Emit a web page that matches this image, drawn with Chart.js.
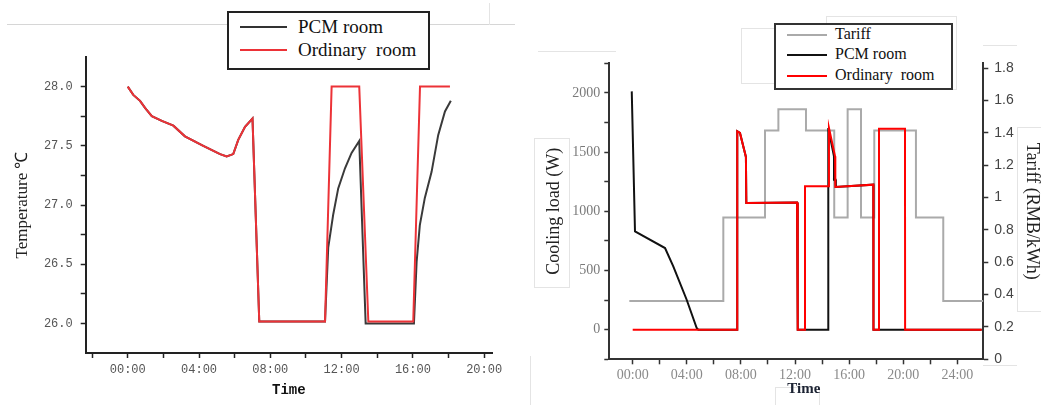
<!DOCTYPE html>
<html>
<head>
<meta charset="utf-8">
<script src="https://cdn.jsdelivr.net/npm/chart.js@4.4.1/dist/chart.umd.min.js"></script>
<style>
  body { margin: 0; background: #fff; width: 1041px; height: 405px; overflow: hidden; position: relative; }
  .pane { position: absolute; top: 0; height: 405px; }
  .ghost { position: absolute; border: 1px solid #e4e4e4; box-sizing: border-box; }
  .hl { position: absolute; height: 0; border-top: 1px solid #d6d6d6; }
  .legend { position: absolute; background: #fff; box-sizing: border-box; font-family: "Liberation Serif", "Times New Roman", serif; color: #111; }
  .legend .row { position: absolute; white-space: pre; }
  .legend .sw { position: absolute; height: 2px; }
</style>
</head>
<body>

<!-- faint frame lines left over in the original figure -->
<div class="hl" style="left:7px;top:24px;width:508px;"></div>
<div class="ghost" style="left:489px;top:3px;width:1px;height:22px;border-width:0 0 0 1px;"></div>
<div class="ghost" style="left:741px;top:28px;width:86px;height:56px;"></div>
<div class="ghost" style="left:826px;top:16px;width:131px;height:74px;"></div>
<div class="ghost" style="left:534px;top:138px;width:36px;height:150px;"></div>
<div class="ghost" style="left:1017px;top:127px;width:30px;height:185px;"></div>
<div class="ghost" style="left:538px;top:51px;width:78px;height:1px;border-width:1px 0 0 0;"></div>
<div class="ghost" style="left:983px;top:45px;width:34px;height:1px;border-width:1px 0 0 0;"></div>
<div class="ghost" style="left:983px;top:365px;width:34px;height:1px;border-width:1px 0 0 0;"></div>
<div class="ghost" style="left:775px;top:387px;width:45px;height:30px;"></div>
<div class="ghost" style="left:530px;top:356px;width:1px;height:50px;border-width:0 0 0 1px;"></div>

<div class="pane" style="left:0;width:520px;"><canvas id="tempChart"></canvas></div>
<div class="pane" style="left:520px;width:521px;"><canvas id="loadChart"></canvas></div>

<div class="legend" style="left:227px;top:11px;width:203px;height:59px;border:2px solid #222;font-size:19px;">
  <div class="sw" style="left:11px;top:13px;width:47px;background:#333;"></div>
  <div class="row" style="left:69px;top:3px;">PCM room</div>
  <div class="sw" style="left:11px;top:36px;width:47px;background:#ec3237;"></div>
  <div class="row" style="left:69px;top:26px;">Ordinary  room</div>
</div>

<div class="legend" style="left:774px;top:23px;width:179px;height:67px;border:2px solid #333;font-size:16px;">
  <div class="sw" style="left:11px;top:9px;width:40px;background:#aaa;"></div>
  <div class="row" style="left:59px;top:0px;">Tariff</div>
  <div class="sw" style="left:11px;top:29px;width:40px;background:#111;"></div>
  <div class="row" style="left:59px;top:20px;">PCM room</div>
  <div class="sw" style="left:11px;top:50px;width:40px;background:#f00;"></div>
  <div class="row" style="left:59px;top:41px;">Ordinary  room</div>
</div>

<script>
// ---- left: indoor temperature (hours since 00:00) ----
const ordTime = [0, 0.31, 0.69, 0.97, 1.35, 1.91, 2.56, 3.21, 4.24, 5.18, 5.55, 5.92, 6.2, 6.58, 7.0, 7.38, 11.07, 11.44, 12.99, 13.5, 16.02, 16.4, 18.08];
const ordTemp = [28.0, 27.93, 27.88, 27.82, 27.75, 27.71, 27.67, 27.58, 27.5, 27.43, 27.41, 27.43, 27.55, 27.66, 27.73, 26.016, 26.016, 28.0, 28.0, 26.016, 26.016, 28.0, 28.0];

const pcmTime = [0, 0.31, 0.69, 0.97, 1.35, 1.91, 2.56, 3.21, 4.24, 5.18, 5.55, 5.92, 6.2, 6.58, 7.0, 7.38, 11.07, 11.25, 11.53, 11.81, 12.19, 12.56, 12.99, 13.35, 16.06, 16.21, 16.39, 16.67, 17.05, 17.42, 17.8, 18.13];
const pcmTemp = [28.0, 27.93, 27.88, 27.82, 27.75, 27.71, 27.67, 27.58, 27.5, 27.43, 27.41, 27.43, 27.55, 27.66, 27.73, 26.016, 26.016, 26.64, 26.92, 27.14, 27.31, 27.44, 27.54, 26.0, 26.0, 26.52, 26.83, 27.06, 27.28, 27.59, 27.79, 27.88];

const tempTicks = [26.0, 26.5, 27.0, 27.5, 28.0];

// ---- right: cooling load and tariff ----
const tariffTime = [-0.25, 6.7, 9.78, 10.77, 12.81, 14.9, 15.89, 16.88, 17.86, 20.94, 22.96, 25.92];
const tariffValue = [0.361, 0.876, 1.414, 1.546, 1.414, 0.876, 1.546, 0.876, 1.414, 0.876, 0.361, 0.361];

const pcmLoadTime = [-0.07, 0.17, 2.39, 3.0, 3.99, 4.73, 4.85, 7.73, 7.73, 7.93, 8.37, 8.4, 12.15, 12.2, 14.46, 14.46, 14.88, 14.88, 15.0, 15.02, 17.79, 17.8, 25.8];
const pcmLoad = [2013, 830, 690, 535, 253, 14, 0, 0, 1676, 1662, 1459, 1070, 1075, 0, 0, 1704, 1464, 1267, 1267, 1205, 1225, 0, 0];

const ordLoadTime = [0, 7.73, 7.73, 7.93, 8.37, 8.4, 12.15, 12.2, 12.74, 12.74, 14.46, 14.51, 14.96, 14.98, 17.79, 17.8, 18.21, 18.21, 20.13, 20.14, 25.8];
const ordLoad = [0, 0, 1676, 1662, 1459, 1070, 1075, 0, 0, 1211, 1211, 1704, 1464, 1205, 1225, 0, 0, 1698, 1698, 0, 0];

const hourLabel = v => String(v).padStart(2, '0') + ':00';
const pts = (xs, ys) => xs.map((x, i) => ({ x: x, y: ys[i] }));

Chart.defaults.animation = false;
Chart.defaults.plugins.legend.display = false;
Chart.defaults.plugins.tooltip.enabled = false;

new Chart(document.getElementById("tempChart"), {
  type: 'line',
  data: {
    datasets: [{
      label: "PCM room",
      data: pts(pcmTime, pcmTemp),
      borderColor: "#3a3a3a",
      borderWidth: 2,
      pointRadius: 0,
      order: 2
    }, {
      label: "Ordinary room",
      data: pts(ordTime, ordTemp),
      borderColor: "#ec3237",
      borderWidth: 2,
      pointRadius: 0,
      order: 1
    }]
  },
  options: {
    responsive: true,
    maintainAspectRatio: false,
    layout: { padding: { left: 0, right: 28, top: 57, bottom: 0 } },
    scales: {
      x: {
        type: 'linear',
        min: -2.36,
        max: 20.44,
        afterFit: s => { s.height = 52; },
        border: { color: '#222', width: 2 },
        grid: { drawOnChartArea: false, tickLength: 5, tickColor: '#222', tickWidth: 1.5 },
        ticks: {
          stepSize: 2,
          includeBounds: false,
          autoSkip: false,
          maxRotation: 0,
          padding: 5,
          color: '#555',
          font: { family: '"Liberation Mono", monospace', size: 12 },
          callback: v => (v >= 0 && v % 4 === 0) ? hourLabel(v) : ''
        },
        title: {
          display: true,
          text: 'Time',
          color: '#111',
          font: { family: '"Liberation Mono", monospace', size: 14, weight: 'bold' },
          padding: { top: 0, bottom: 6 }
        }
      },
      y: {
        min: 25.75,
        max: 28.25,
        afterFit: s => { s.width = 85.7; },
        afterBuildTicks: s => { s.ticks = s.ticks.filter(t => t.value > 25.8 && t.value < 28.2); },
        border: { color: '#222', width: 2 },
        grid: { drawOnChartArea: false, tickLength: 5, tickColor: '#222', tickWidth: 1.5 },
        ticks: {
          stepSize: 0.25,
          autoSkip: false,
          padding: 8,
          color: '#555',
          font: { family: '"Liberation Mono", monospace', size: 12 },
          callback: v => tempTicks.some(t => Math.abs(t - v) < 1e-6) ? v.toFixed(1) : ''
        },
        title: {
          display: true,
          text: 'Temperature ℃',
          color: '#222',
          font: { family: '"Liberation Serif", serif', size: 17 },
          padding: { top: 12, bottom: 0 }
        }
      }
    }
  }
});

new Chart(document.getElementById("loadChart"), {
  type: 'line',
  data: {
    datasets: [{
      label: "Tariff",
      data: pts(tariffTime, tariffValue),
      yAxisID: 'y2',
      stepped: 'before',
      borderColor: "#aaaaaa",
      borderWidth: 2,
      pointRadius: 0,
      order: 3
    }, {
      label: "PCM room",
      data: pts(pcmLoadTime, pcmLoad),
      yAxisID: 'y',
      borderColor: "#111",
      borderWidth: 2,
      pointRadius: 0,
      order: 2
    }, {
      label: "Ordinary room",
      data: pts(ordLoadTime, ordLoad),
      yAxisID: 'y',
      borderColor: "#ff0000",
      borderWidth: 2,
      pointRadius: 0,
      order: 1
    }]
  },
  options: {
    responsive: true,
    maintainAspectRatio: false,
    layout: { padding: { left: 0, right: 0, top: 63.3, bottom: 0 } },
    scales: {
      x: {
        type: 'linear',
        min: -1.73,
        max: 25.92,
        afterFit: s => { s.height = 45.7; },
        border: { color: '#333', width: 2 },
        grid: { drawOnChartArea: false, tickLength: 5, tickColor: '#333', tickWidth: 1.5 },
        ticks: {
          stepSize: 2,
          includeBounds: false,
          autoSkip: false,
          maxRotation: 0,
          padding: 3,
          color: '#8a8a8a',
          font: { family: '"Liberation Serif", serif', size: 14 },
          callback: v => (v % 4 === 0) ? hourLabel(v) : ''
        },
        title: {
          display: true,
          text: '\u2007\u2007Time',
          color: '#1c2333',
          font: { family: '"Liberation Serif", serif', size: 15, weight: 'bold' },
          padding: { top: 0, bottom: 7 }
        }
      },
      y: {
        position: 'left',
        min: -250,
        max: 2250,
        afterFit: s => { s.width = 89.3; },
        border: { color: '#333', width: 2 },
        grid: { drawOnChartArea: false, tickLength: 5, tickColor: '#333', tickWidth: 1.5 },
        ticks: {
          stepSize: 250,
          autoSkip: false,
          padding: 4,
          color: '#7a7a7a',
          font: { family: '"Liberation Serif", serif', size: 14 },
          callback: v => (v % 500 === 0) ? String(v) : ''
        },
        title: {
          display: true,
          text: 'Cooling load (W)',
          color: '#222',
          font: { family: '"Liberation Serif", serif', size: 18 },
          padding: { top: 23, bottom: 0 }
        }
      },
      y2: {
        position: 'right',
        min: 0,
        max: 1.83,
        afterFit: s => { s.width = 57.7; },
        border: { color: '#333', width: 2 },
        grid: { drawOnChartArea: false, tickLength: 5, tickColor: '#333', tickWidth: 1.5 },
        ticks: {
          stepSize: 0.2,
          includeBounds: false,
          autoSkip: false,
          padding: 6,
          color: '#444',
          font: { family: '"Liberation Sans", sans-serif', size: 14 },
          callback: v => String(parseFloat(v.toFixed(1)))
        },
        title: {
          display: true,
          text: 'Tariff (RMB/kWh)',
          color: '#222',
          font: { family: '"Liberation Serif", serif', size: 18, lineHeight: 1 },
          padding: { top: 0, bottom: 0 }
        }
      }
    }
  }
});
</script>
</body>
</html>
